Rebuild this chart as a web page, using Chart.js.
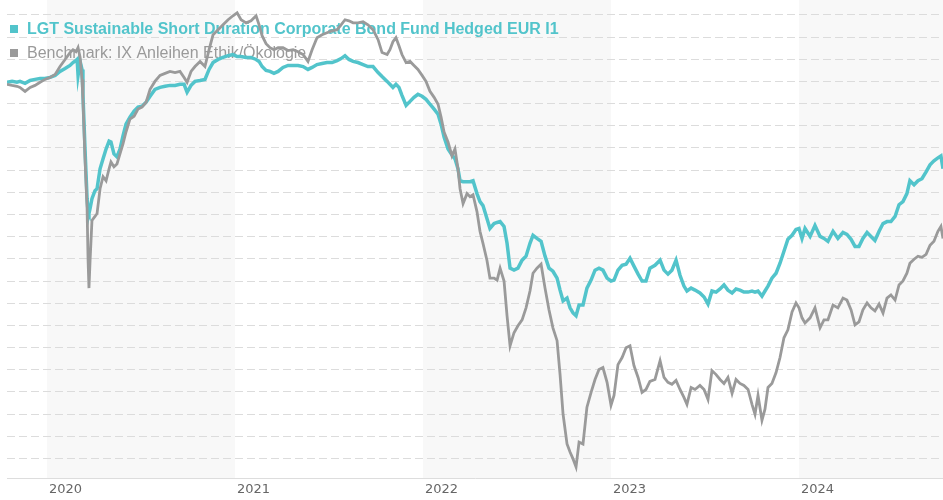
<!DOCTYPE html>
<html>
<head>
<meta charset="utf-8">
<title>LGT Sustainable Short Duration Corporate Bond Fund</title>
<script src="https://cdn.jsdelivr.net/npm/chart.js@4.4.1/dist/chart.umd.min.js"></script>
<style>
  html, body { margin: 0; padding: 0; background: #fff; }
  #wrap { width: 943px; height: 500px; position: relative; }
</style>
</head>
<body>
<div id="wrap"><canvas id="perfChart"></canvas></div>
<script>
// series names + colours
var seriesNames = [
  'LGT Sustainable Short Duration Corporate Bond Fund Hedged EUR I1',
  'Benchmark: IX Anleihen Ethik/Ökologie'
];
var seriesColors = ['#52c4cb', '#9a9a9a'];

// year ticks on the x axis
var yearTicks = [2020, 2021, 2022, 2023, 2024];

// dates as decimal years
var dates = [
  2019.787,2019.814,2019.840,2019.856,2019.883,2019.910,2019.936,2019.963,2019.989,2020.016,
  2020.043,2020.069,2020.096,2020.122,2020.138,2020.154,2020.160,2020.165,2020.176,2020.186,
  2020.191,2020.202,2020.213,2020.218,2020.223,2020.229,2020.239,2020.255,2020.266,2020.282,
  2020.298,2020.314,2020.330,2020.340,2020.356,2020.372,2020.388,2020.404,2020.420,2020.441,
  2020.463,2020.484,2020.505,2020.527,2020.548,2020.574,2020.601,2020.628,2020.654,2020.681,
  2020.707,2020.729,2020.745,2020.766,2020.787,2020.814,2020.840,2020.862,2020.883,2020.910,
  2020.936,2020.963,2020.989,2021.011,2021.032,2021.059,2021.085,2021.112,2021.128,2021.144,
  2021.165,2021.186,2021.207,2021.229,2021.255,2021.282,2021.309,2021.335,2021.362,2021.388,
  2021.410,2021.436,2021.463,2021.489,2021.516,2021.543,2021.564,2021.585,2021.606,2021.628,
  2021.654,2021.681,2021.707,2021.734,2021.761,2021.782,2021.809,2021.824,2021.840,2021.856,
  2021.872,2021.888,2021.910,2021.931,2021.952,2021.973,2021.995,2022.016,2022.037,2022.059,
  2022.080,2022.096,2022.112,2022.133,2022.154,2022.170,2022.186,2022.197,2022.213,2022.234,
  2022.250,2022.266,2022.287,2022.303,2022.319,2022.340,2022.356,2022.378,2022.394,2022.410,
  2022.431,2022.447,2022.463,2022.484,2022.505,2022.527,2022.548,2022.569,2022.585,2022.606,
  2022.628,2022.649,2022.670,2022.691,2022.713,2022.729,2022.745,2022.766,2022.782,2022.798,
  2022.814,2022.830,2022.851,2022.872,2022.894,2022.915,2022.936,2022.957,2022.979,2023.000,
  2023.016,2023.037,2023.059,2023.080,2023.101,2023.122,2023.144,2023.165,2023.186,2023.207,
  2023.234,2023.261,2023.282,2023.303,2023.324,2023.346,2023.367,2023.388,2023.404,2023.426,
  2023.447,2023.473,2023.495,2023.516,2023.537,2023.559,2023.580,2023.601,2023.622,2023.644,
  2023.665,2023.686,2023.707,2023.729,2023.750,2023.766,2023.782,2023.803,2023.819,2023.835,
  2023.856,2023.878,2023.899,2023.920,2023.941,2023.963,2023.984,2024.000,2024.016,2024.032,
  2024.059,2024.085,2024.112,2024.133,2024.154,2024.181,2024.207,2024.234,2024.255,2024.277,
  2024.298,2024.319,2024.340,2024.362,2024.383,2024.404,2024.426,2024.447,2024.468,2024.489,
  2024.511,2024.532,2024.553,2024.574,2024.590,2024.612,2024.633,2024.654,2024.676,2024.697,
  2024.718,2024.739,2024.755,2024.766
];

// cumulative performance in %
var fundValues = [
  -0.04,0,-0.04,0,-0.09,0.04,0.09,0.13,0.13,0.18,
  0.27,0.45,0.58,0.72,0.85,0.94,0.99,0.27,0.90,0.54,
  -0.58,-3.05,-5.29,-5.87,-5.96,-5.73,-5.29,-4.93,-4.84,-3.94,
  -3.49,-3.05,-2.69,-2.73,-3.27,-3.40,-3.05,-2.46,-1.93,-1.61,
  -1.34,-1.16,-1.12,-0.94,-0.67,-0.36,-0.27,-0.22,-0.18,-0.18,
  -0.13,-0.13,-0.49,-0.18,0,0.04,0.09,0.54,0.85,0.99,
  1.08,1.16,1.21,1.12,1.12,1.08,1.08,0.99,0.90,0.67,
  0.49,0.45,0.36,0.45,0.63,0.72,0.72,0.72,0.67,0.54,
  0.63,0.76,0.81,0.85,0.85,0.94,1.03,1.16,0.99,0.90,
  0.85,0.76,0.67,0.67,0.40,0.22,0,-0.13,-0.27,-0.13,
  -0.27,-0.63,-1.08,-0.90,-0.72,-0.58,-0.67,-0.81,-1.03,-1.25,
  -1.48,-1.93,-2.51,-3.05,-3.32,-3.49,-3.94,-4.48,-4.52,-4.52,
  -4.52,-4.48,-5.06,-5.42,-5.60,-6.18,-6.63,-6.41,-6.36,-6.32,
  -6.54,-7.30,-8.42,-8.51,-8.42,-8.06,-7.88,-7.30,-6.94,-7.08,
  -7.21,-7.88,-8.42,-8.56,-8.87,-9.41,-9.90,-9.77,-10.21,-10.44,
  -10.57,-10.08,-10.08,-9.32,-8.96,-8.51,-8.42,-8.51,-8.87,-9.00,
  -8.96,-8.51,-8.29,-8.24,-7.97,-8.33,-8.69,-9.00,-9.00,-8.42,
  -8.29,-8.06,-8.51,-8.69,-8.51,-8.06,-8.74,-9.23,-9.45,-9.32,
  -9.41,-9.54,-9.72,-10.04,-9.45,-9.50,-9.36,-9.18,-9.41,-9.54,
  -9.36,-9.41,-9.50,-9.50,-9.45,-9.50,-9.45,-9.68,-9.45,-9.23,
  -8.87,-8.65,-8.20,-7.66,-7.12,-6.94,-6.68,-6.63,-7.08,-6.63,
  -6.99,-6.50,-6.99,-7.08,-7.21,-6.76,-7.08,-6.81,-6.90,-7.12,
  -7.44,-7.44,-7.08,-6.81,-6.99,-7.17,-6.76,-6.41,-6.32,-6.32,
  -6.09,-5.56,-5.42,-5.06,-4.48,-4.66,-4.48,-4.39,-4.08,-3.76,
  -3.58,-3.45,-3.36,-3.94
];

var benchValues = [
  -0.13,-0.18,-0.22,-0.27,-0.45,-0.27,-0.18,-0.04,0.09,0.18,
  0.31,0.67,0.99,1.30,1.43,1.34,1.43,1.52,1.08,0.09,
  -0.81,-3.49,-5.73,-7.97,-9.32,-8.06,-6.27,-6.09,-5.96,-4.84,
  -4.30,-4.48,-3.94,-3.63,-3.85,-3.72,-3.27,-2.82,-2.28,-1.70,
  -1.57,-1.25,-1.16,-0.94,-0.36,0,0.27,0.36,0.45,0.40,
  0.45,0.18,-0.04,0.45,0.67,0.90,0.67,1.43,2.10,2.33,
  2.55,2.78,2.96,3.09,2.78,2.64,2.73,2.96,2.55,2.06,
  1.70,1.52,1.43,1.52,1.52,1.39,1.43,1.34,1.21,0.90,
  1.43,1.97,2.10,2.19,2.28,2.33,2.55,2.78,2.73,2.64,
  2.64,2.69,2.55,2.33,1.88,1.30,1.21,1.43,1.79,1.97,
  1.61,1.21,0.85,0.90,0.72,0.54,0.27,0,-0.45,-0.72,
  -1.03,-1.61,-2.28,-2.73,-3.36,-3.05,-3.94,-4.84,-5.51,-5.06,
  -5.20,-5.11,-5.87,-6.76,-7.30,-8.06,-8.87,-8.87,-8.96,-8.42,
  -9.00,-10.57,-11.92,-11.33,-11.02,-10.75,-10.21,-9.45,-8.65,-8.42,
  -8.24,-9.32,-10.30,-11.11,-11.69,-13.22,-15.01,-16.35,-16.71,-17.02,
  -17.38,-16.26,-16.35,-14.69,-14.02,-13.44,-12.99,-12.90,-13.57,-14.60,
  -14.16,-12.77,-12.45,-12.01,-11.92,-12.81,-13.35,-14.02,-13.89,-13.53,
  -13.44,-12.59,-13.35,-13.57,-13.66,-13.48,-13.89,-14.25,-14.56,-13.80,
  -13.89,-13.71,-13.89,-14.34,-13.04,-13.22,-13.44,-13.62,-13.35,-14.07,
  -13.44,-13.62,-13.71,-13.89,-14.56,-15.01,-14.16,-15.28,-14.78,-13.80,
  -13.62,-13.13,-12.45,-11.56,-11.20,-10.39,-9.99,-10.21,-10.66,-10.89,
  -10.66,-10.21,-11.11,-10.75,-10.75,-10.08,-10.21,-9.77,-9.86,-10.30,
  -10.98,-10.84,-10.30,-9.99,-10.21,-10.35,-10.04,-10.44,-9.77,-9.63,
  -9.86,-9.18,-9.00,-8.65,-8.20,-8.02,-7.88,-7.93,-7.80,-7.39,
  -7.21,-6.76,-6.54,-7.08
];

function toPoints(vals) {
  return vals.map(function (v, i) { return { x: dates[i], y: v }; });
}

// shaded background for every second year (2020, 2022, 2024)
var yearBands = {
  id: 'yearBands',
  beforeDraw: function (chart) {
    var ctx = chart.ctx, area = chart.chartArea, xs = chart.scales.x;
    ctx.save();
    ctx.fillStyle = '#fff';
    ctx.fillRect(0, 0, chart.width, chart.height);
    ctx.fillStyle = '#f8f8f8';
    yearTicks.forEach(function (yr) {
      if (yr % 2 !== 0) return;
      var x0 = Math.max(area.left, xs.getPixelForValue(yr));
      var x1 = Math.min(area.right, xs.getPixelForValue(yr + 1));
      if (x1 > x0) ctx.fillRect(x0, 0, x1 - x0, area.bottom);
    });
    ctx.restore();
  }
};

// legend written over the plot, under the lines
var topLegend = {
  id: 'topLegend',
  beforeDatasetsDraw: function (chart) {
    var ctx = chart.ctx;
    ctx.save();
    ctx.textBaseline = 'alphabetic';
    ctx.textAlign = 'left';
    seriesNames.forEach(function (name, i) {
      var base = 34 + i * 24;
      ctx.fillStyle = seriesColors[i];
      ctx.fillRect(10, base - 9, 8, 8);
      ctx.font = (i === 0 ? 'bold ' : '') + '16px "Liberation Sans", Arial, sans-serif';
      ctx.fillText(name, 27, base);
    });
    ctx.restore();
  }
};

new Chart(document.getElementById('perfChart'), {
  type: 'line',
  data: {
    datasets: [{
      label: seriesNames[0],
      data: toPoints(fundValues),
      borderColor: seriesColors[0],
      borderWidth: 3.5,
      pointRadius: 0,
      tension: 0,
      order: 2
    }, {
      label: seriesNames[1],
      data: toPoints(benchValues),
      borderColor: seriesColors[1],
      borderWidth: 2.8,
      pointRadius: 0,
      tension: 0,
      order: 1
    }]
  },
  options: {
    responsive: true,
    maintainAspectRatio: false,
    animation: false,
    layout: { padding: { left: 7, right: 0, top: 0, bottom: 0 } },
    plugins: {
      legend: { display: false },
      tooltip: { enabled: false }
    },
    scales: {
      x: {
        type: 'linear',
        min: 2019.787,
        max: 2024.766,
        afterBuildTicks: function (scale) {
          scale.ticks = yearTicks.map(function (v) { return { value: v }; });
        },
        ticks: {
          align: 'start',
          autoSkip: false,
          maxRotation: 0,
          padding: 3,
          labelOffset: 2,
          color: '#666',
          font: { family: '"DejaVu Sans", Verdana, sans-serif', size: 13 },
          callback: function (v) { return String(v); }
        },
        grid: { display: false, drawTicks: false },
        border: { display: true, color: '#dddddd', width: 1 }
      },
      y: {
        min: -17.9,
        max: 3.67,
        afterBuildTicks: function (scale) {
          scale.ticks = scale.ticks.filter(function (t) { return Number.isInteger(t.value); });
        },
        ticks: { display: false, stepSize: 1 },
        grid: { color: '#dcdcdc', lineWidth: 1, drawTicks: false },
        border: { display: false, dash: [8, 4] }
      }
    }
  },
  plugins: [yearBands, topLegend]
});
</script>
</body>
</html>
